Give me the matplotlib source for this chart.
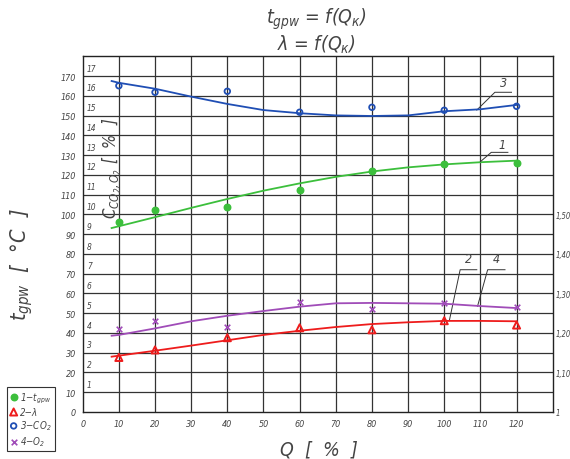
import numpy as np
import matplotlib
matplotlib.use("Agg")
import matplotlib.pyplot as plt
import matplotlib.transforms as mtransforms

plt.rcParams["font.family"] = ["DejaVu Sans"]
plt.rcParams["font.style"] = "italic"
plt.rcParams["font.stretch"] = "condensed"
plt.rcParams["mathtext.fontset"] = "dejavusans"

# Измеренные точки (Q, %)
q_pts = [10, 20, 40, 60, 80, 100, 120]
t_pts = [96.0, 102.2, 103.7, 112.5, 122.1, 125.3, 126.0]          # t, °C
lam_pts = [1.138, 1.157, 1.188, 1.213, 1.208, 1.231, 1.220]        # λ
co2_pts = [16.51, 16.18, 16.23, 15.17, 15.42, 15.27, 15.47]        # CO2, %
o2_pts = [4.18, 4.60, 4.30, 5.55, 5.23, 5.53, 5.33]                # O2, %

# Аппроксимирующие кривые
q_fit = [8, 10, 20, 30, 40, 50, 60, 70, 80, 90, 100, 110, 120]
t_fit = [93.1, 94.0, 98.6, 103.3, 107.8, 112.0, 115.7, 119.0, 121.7,
         123.8, 125.3, 126.4, 127.2]
lam_fit = [1.140, 1.1425, 1.155, 1.168, 1.1815, 1.195, 1.2055, 1.215,
           1.2225, 1.227, 1.2305, 1.2305, 1.2295]
co2_fit = [16.75, 16.66, 16.36, 15.96, 15.59, 15.28, 15.12, 15.01, 14.98,
           15.01, 15.22, 15.32, 15.54]
o2_fit = [3.86, 3.90, 4.23, 4.59, 4.87, 5.11, 5.33, 5.50, 5.52, 5.50,
          5.48, 5.36, 5.26]

x_ticks = list(range(0, 130, 10))
t_ticks = list(range(0, 180, 10))
c_ticks = list(range(1, 18))
lam_ticks = [1.0, 1.1, 1.2, 1.3, 1.4, 1.5]
lam_labels = ["1", "1,10", "1,20", "1,30", "1,40", "1,50"]

c_green = "#3cbf3c"
c_red = "#ee1c1c"
c_blue = "#1f4eb4"
c_purple = "#a04cb8"
c_text = "#444444"

fig = plt.figure(figsize=(5.7, 4.6), dpi=100)
ax = fig.add_axes([0.1451, 0.1022, 0.8246, 0.7732])
ax.set_xlim(0, 130)
ax.set_ylim(0, 180)

# Сетка
for xv in range(10, 130, 10):
    ax.axvline(xv, color="#333333", lw=0.9, zorder=1)
for yv in range(10, 180, 10):
    ax.axhline(yv, color="#333333", lw=0.9, zorder=1)
for sp in ax.spines.values():
    sp.set_color("#222222")
    sp.set_linewidth(1.0)

ax.set_xticks(x_ticks)
ax.set_xticklabels([str(v) for v in x_ticks], fontsize=6.5, color=c_text)
ax.set_yticks(t_ticks)
ax.set_yticklabels([str(v) for v in t_ticks], fontsize=6.5, color=c_text)
ax.tick_params(length=0, pad=5)

# Ось концентраций (CO2, O2) и ось λ
ax_c = ax.twinx()
ax_c.set_ylim(0, 18)
ax_c.set_yticks([])
ax_c.spines[:].set_visible(False)

ax_l = ax.twinx()
ax_l.set_ylim(1.0, 1.9)
ax_l.set_yticks(lam_ticks)
ax_l.set_yticklabels(lam_labels, fontsize=5.5, color=c_text)
ax_l.tick_params(length=0, pad=2)
ax_l.spines[:].set_visible(False)

trans = mtransforms.blended_transform_factory(ax.transAxes, ax_c.transData)
for k in c_ticks:
    ax_c.text(0.009, k + 0.4, str(k), transform=trans, fontsize=6,
              color=c_text, ha="left", va="center")

# Кривые
ax.plot(q_fit, t_fit, color=c_green, lw=1.3, zorder=3)
ax_l.plot(q_fit, lam_fit, color=c_red, lw=1.3, zorder=3)
ax_c.plot(q_fit, co2_fit, color=c_blue, lw=1.3, zorder=3)
ax_c.plot(q_fit, o2_fit, color=c_purple, lw=1.3, zorder=3)

# Точки
h1 = ax.scatter(q_pts, t_pts, s=22, color=c_green, zorder=4,
                label="1−$t_{gpw}$")
h2 = ax_l.scatter(q_pts, lam_pts, s=26, marker="^", facecolor="none",
                  edgecolor=c_red, linewidth=1.4, zorder=4, label="2−λ")
h3 = ax_c.scatter(q_pts, co2_pts, s=16, marker="o", facecolor="none",
                  edgecolor=c_blue, linewidth=1.3, zorder=4,
                  label="3−CO$_2$")
h4 = ax_c.scatter(q_pts, o2_pts, s=16, marker="x", color=c_purple,
                  linewidth=1.2, zorder=4, label="4−O$_2$")

# Выноски с номерами кривых
lead = dict(color="#333333", lw=0.7, zorder=5)
ax.plot([109, 114, 118.6], [152.8, 161.8, 161.8], **lead)
ax.text(116.3, 166.8, "3", fontsize=9, color=c_text, ha="center", va="center")
ax.plot([110, 113, 117.6], [126.7, 131.4, 131.4], **lead)
ax.text(116.0, 135.6, "1", fontsize=9, color=c_text, ha="center", va="center")
ax.plot([101.4, 104.4, 109.0], [46.2, 72.0, 72.0], **lead)
ax.text(106.7, 74.6, "2", fontsize=9, color=c_text, ha="center", va="bottom")
ax.plot([109.2, 112.0, 116.8], [53.5, 72.0, 72.0], **lead)
ax.text(114.5, 74.6, "4", fontsize=9, color=c_text, ha="center", va="bottom")

# Подписи
fig.text(0.555, 0.958, "$t_{gpw}$ = f(Q$_к$)", fontsize=14, color=c_text,
         ha="center", va="center")
fig.text(0.555, 0.902, "λ = f(Q$_к$)", fontsize=14, color=c_text,
         ha="center", va="center")
fig.text(0.56, 0.022, "Q  [  %  ]", fontsize=14, color=c_text,
         ha="center", va="center")
fig.text(0.038, 0.425, "$t_{gpw}$  [  °C  ]", fontsize=15.5, color=c_text,
         rotation=90, ha="center", va="center")
fig.text(0.197, 0.635, "C$_{CO_2,O_2}$ [  %  ]", fontsize=12, color=c_text,
         rotation=90, ha="center", va="center")

leg = fig.legend(handles=[h1, h2, h3, h4], loc="upper left",
                 bbox_to_anchor=(0.012, 0.157), fontsize=7,
                 handlelength=0.7, handletextpad=0.3, labelspacing=0.2,
                 borderpad=0.35, borderaxespad=0, fancybox=False,
                 framealpha=1)
leg.get_frame().set_edgecolor("#333333")
leg.get_frame().set_linewidth(0.8)
for t in leg.get_texts():
    t.set_color(c_text)

fig.savefig("out.png", dpi=100)
plt.close(fig)
